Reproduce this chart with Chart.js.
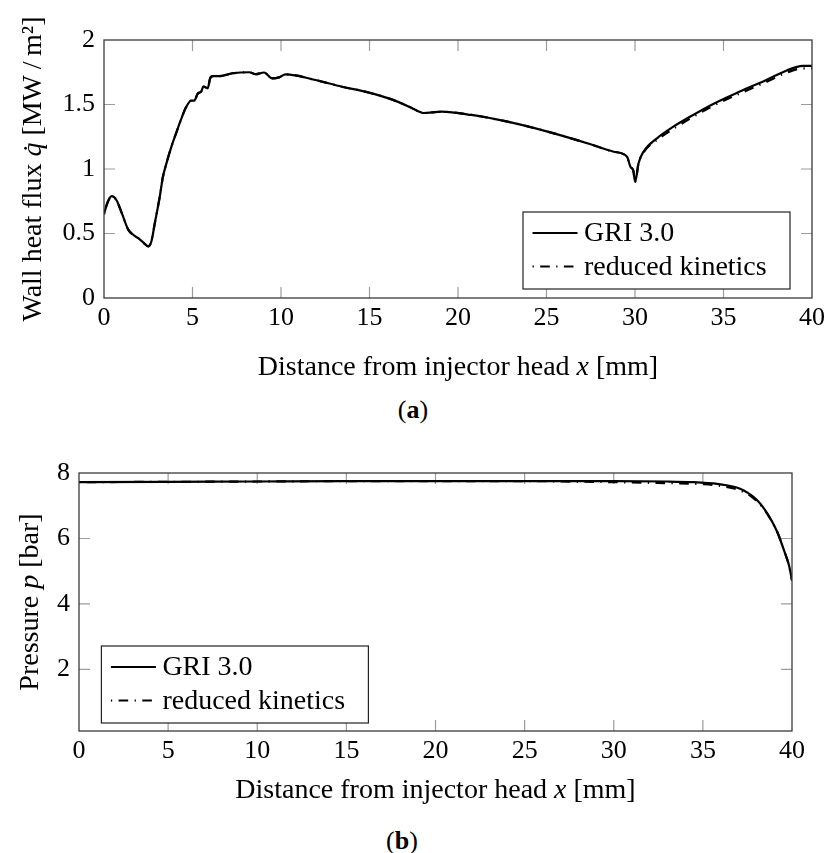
<!DOCTYPE html>
<html>
<head>
<meta charset="utf-8">
<script src="https://cdn.jsdelivr.net/npm/chart.js@4.4.0/dist/chart.umd.min.js"></script>
<style>
  body { margin: 0; width: 830px; height: 853px; position: relative; overflow: hidden; background: #fff;
         font-family: "Liberation Serif", serif; }
  canvas { position: absolute; left: 0; }
  #heatChart { top: 0; }
  #pressChart { top: 440px; }
  .caption { position: absolute; font-size: 26px; line-height: 1; transform: translate(-50%, -50%); color: #000; }
</style>
</head>
<body>
<canvas id="heatChart" width="830" height="390"></canvas>
<div class="caption" style="left:413px; top:410px">(<b>a</b>)</div>
<canvas id="pressChart" width="830" height="380"></canvas>
<div class="caption" style="left:402px; top:841px">(<b>b</b>)</div>

<script>
// wall heat flux along the chamber [mm] -> [MW/m2]
const heatX = [0, 0.2, 0.43, 0.7, 1.0, 1.37, 1.65, 2.02, 2.3, 2.5, 2.68, 2.87, 3.15, 3.33, 3.52, 3.8,
  4.08, 4.37, 4.64, 4.93, 5.1, 5.3, 5.49, 5.62, 5.86, 5.99, 6.14, 6.52, 7.26, 8.2, 8.58, 9.04, 9.51,
  9.89, 10.26, 11.94, 13.44, 14.75, 16.25, 17.2, 17.75, 18.03, 19.06, 20.75, 22.8, 25.06, 27.3, 28.8,
  29.55, 29.74, 29.9, 30.01, 30.2, 30.48, 31.24, 32.17, 33.11, 34.42, 35.92, 37.42, 38.54, 39.47, 40];
const heatGri = [0.65, 0.74, 0.79, 0.76, 0.66, 0.53, 0.49, 0.455, 0.42, 0.40, 0.44, 0.58, 0.785, 0.94,
  1.04, 1.17, 1.28, 1.39, 1.48, 1.53, 1.53, 1.585, 1.60, 1.64, 1.625, 1.70, 1.72, 1.72, 1.742, 1.75,
  1.735, 1.748, 1.703, 1.71, 1.734, 1.69, 1.638, 1.60, 1.54, 1.485, 1.448, 1.434, 1.444, 1.419, 1.367,
  1.29, 1.20, 1.134, 1.095, 1.018, 0.99, 0.90, 1.044, 1.134, 1.238, 1.328, 1.405, 1.504, 1.60, 1.69,
  1.762, 1.80, 1.80];
const heatReduced = [0.65, 0.74, 0.79, 0.76, 0.66, 0.53, 0.49, 0.455, 0.42, 0.40, 0.44, 0.58, 0.785, 0.94,
  1.04, 1.17, 1.28, 1.39, 1.48, 1.53, 1.53, 1.585, 1.60, 1.64, 1.625, 1.70, 1.72, 1.72, 1.742, 1.75,
  1.735, 1.748, 1.703, 1.71, 1.734, 1.69, 1.638, 1.60, 1.54, 1.485, 1.448, 1.434, 1.444, 1.419, 1.367,
  1.29, 1.20, 1.134, 1.095, 1.018, 0.99, 0.90, 1.044, 1.128, 1.225, 1.312, 1.39, 1.49, 1.585, 1.675,
  1.745, 1.78, 1.78];

// chamber pressure [mm] -> [bar]
const pressX = [0, 5, 10, 15, 20, 25, 30, 33, 34.5, 35.06, 35.8, 36.74, 37.12, 37.5, 37.8, 38.06, 38.34,
  38.62, 38.9, 39.18, 39.55, 39.83, 40];
const pressGri = [7.72, 7.73, 7.74, 7.75, 7.75, 7.75, 7.75, 7.74, 7.72, 7.70, 7.67, 7.58, 7.51, 7.40,
  7.29, 7.16, 6.98, 6.76, 6.50, 6.19, 5.64, 5.18, 4.72];
const pressReduced = [7.72, 7.73, 7.74, 7.75, 7.75, 7.75, 7.72, 7.69, 7.67, 7.66, 7.62, 7.53, 7.46, 7.36,
  7.25, 7.12, 6.96, 6.74, 6.49, 6.19, 5.64, 5.18, 4.72];

const seriesLabels = ['GRI 3.0', 'reduced kinetics'];
const distanceTicks = [0, 5, 10, 15, 20, 25, 30, 35, 40];
const heatTicks = [0, 0.5, 1, 1.5, 2];
const pressTicks = [2, 4, 6, 8];

const FONT = '"Liberation Serif", serif';
const TICK_LEN = 11;
const LEG_W = 267, LEG_H = 77;

function toPoints(xs, ys) {
  return xs.map((x, i) => ({ x: x, y: ys[i] }));
}

function drawRich(ctx, parts, cx, cy, size) {
  let total = 0;
  const widths = parts.map(p => {
    ctx.font = (p.italic ? 'italic ' : '') + size + 'px ' + FONT;
    const w = ctx.measureText(p.text).width;
    total += w;
    return w;
  });
  let x = cx - total / 2;
  ctx.textAlign = 'left';
  ctx.textBaseline = 'alphabetic';
  parts.forEach((p, i) => {
    ctx.font = (p.italic ? 'italic ' : '') + size + 'px ' + FONT;
    ctx.fillText(p.text, x, cy);
    x += widths[i];
  });
}

// pgfplots-like box: inward ticks, frame, legend and axis titles
const pgfAxes = {
  id: 'pgfAxes',
  beforeDatasetsDraw(chart) {
    const { ctx, chartArea: a, scales: { x, y } } = chart;
    ctx.save();
    ctx.strokeStyle = '#9c9c9c';
    ctx.lineWidth = 1.2;
    ctx.beginPath();
    x.ticks.forEach(t => {
      const px = x.getPixelForValue(t.value);
      if (px <= a.left + 1 || px >= a.right - 1) return;
      ctx.moveTo(px, a.bottom); ctx.lineTo(px, a.bottom - TICK_LEN);
      ctx.moveTo(px, a.top); ctx.lineTo(px, a.top + TICK_LEN);
    });
    y.ticks.forEach(t => {
      const py = y.getPixelForValue(t.value);
      if (py <= a.top + 1 || py >= a.bottom - 1) return;
      ctx.moveTo(a.left, py); ctx.lineTo(a.left + TICK_LEN, py);
      ctx.moveTo(a.right, py); ctx.lineTo(a.right - TICK_LEN, py);
    });
    ctx.stroke();
    ctx.restore();
  },
  afterDatasetsDraw(chart, args, opts) {
    const { ctx, chartArea: a } = chart;
    ctx.save();
    ctx.strokeStyle = '#3a3a3a';
    ctx.lineWidth = 1.3;
    ctx.strokeRect(a.left, a.top, a.right - a.left, a.bottom - a.top);

    // legend box
    const lg = opts.legend;
    const bx = lg.corner === 'se' ? a.right - lg.dx - LEG_W : a.left + lg.dx;
    const by = a.bottom - lg.dy - LEG_H;
    ctx.fillStyle = '#fff';
    ctx.fillRect(bx, by, LEG_W, LEG_H);
    ctx.strokeStyle = '#222';
    ctx.lineWidth = 1.2;
    ctx.strokeRect(bx, by, LEG_W, LEG_H);
    chart.data.datasets.forEach((ds, i) => {
      const ry = by + 21 + i * 33.5;
      ctx.setLineDash(ds.borderDash || []);
      ctx.strokeStyle = ds.borderColor;
      ctx.lineWidth = ds.borderWidth;
      ctx.beginPath();
      ctx.moveTo(bx + 9.5, ry);
      ctx.lineTo(bx + 54.5, ry);
      ctx.stroke();
      ctx.setLineDash([]);
      ctx.fillStyle = '#000';
      ctx.font = '28px ' + FONT;
      ctx.textAlign = 'left';
      ctx.textBaseline = 'middle';
      ctx.fillText(ds.label, bx + 61, ry + 1);
    });

    // axis titles
    ctx.fillStyle = '#000';
    drawRich(ctx, opts.xTitle, (a.left + a.right) / 2, opts.xTitleBase, 28);
    ctx.save();
    ctx.translate(opts.yTitleBase, (a.top + a.bottom) / 2);
    ctx.rotate(-Math.PI / 2);
    drawRich(ctx, opts.yTitle, 0, 0, 28);
    ctx.restore();
    ctx.restore();
  }
};

function lineDataset(label, points, dash) {
  return {
    label: label,
    data: points,
    borderColor: '#000',
    borderWidth: 2.2,
    borderDash: dash,
    pointRadius: 0,
    fill: false,
    cubicInterpolationMode: 'monotone'
  };
}

function buildChart(id, cfg) {
  return new Chart(document.getElementById(id), {
    type: 'line',
    data: {
      datasets: [
        lineDataset(seriesLabels[0], cfg.gri, []),
        lineDataset(seriesLabels[1], cfg.reduced, [1.3, 6.4, 9.6, 6.4])
      ]
    },
    options: {
      responsive: false,
      animation: false,
      layout: { padding: cfg.padding },
      plugins: {
        legend: { display: false },
        tooltip: { enabled: false },
        pgfAxes: cfg.axes
      },
      scales: {
        x: {
          type: 'linear',
          min: 0,
          max: 40,
          afterBuildTicks: s => { s.ticks = distanceTicks.map(v => ({ value: v })); },
          afterFit: s => { s.height = cfg.xHeight; },
          grid: { display: false, drawTicks: false },
          border: { display: false },
          ticks: { color: '#000', font: { family: FONT, size: 26 }, padding: 5, maxRotation: 0, autoSkip: false,
                   callback: v => String(v) }
        },
        y: {
          type: 'linear',
          min: cfg.yMin,
          max: cfg.yMax,
          afterBuildTicks: s => { s.ticks = cfg.yTicks.map(v => ({ value: v })); },
          afterFit: s => { s.width = cfg.yWidth; },
          grid: { display: false, drawTicks: false },
          border: { display: false },
          ticks: { color: '#000', font: { family: FONT, size: 26 }, padding: 9, autoSkip: false,
                   callback: v => String(v) }
        }
      }
    },
    plugins: [pgfAxes]
  });
}

buildChart('heatChart', {
  gri: toPoints(heatX, heatGri),
  reduced: toPoints(heatX, heatReduced),
  padding: { top: 40, right: 14, left: 0, bottom: 0 },
  xHeight: 92,
  yWidth: 104,
  yMin: 0,
  yMax: 2,
  yTicks: heatTicks,
  axes: {
    legend: { corner: 'se', dx: 22, dy: 9 },
    xTitle: [{ text: 'Distance from injector head ' }, { text: 'x', italic: true }, { text: ' [mm]' }],
    xTitleBase: 375,
    yTitle: [{ text: 'Wall heat flux ' }, { text: 'q\u0307', italic: true }, { text: ' [MW\u2009/\u2009m\u00b2]' }],
    yTitleBase: 41
  }
});

buildChart('pressChart', {
  gri: toPoints(pressX, pressGri),
  reduced: toPoints(pressX, pressReduced),
  padding: { top: 33, right: 38, left: 0, bottom: 0 },
  xHeight: 89,
  yWidth: 79,
  yMin: 0.12,
  yMax: 8,
  yTicks: pressTicks,
  axes: {
    legend: { corner: 'sw', dx: 22.4, dy: 8 },
    xTitle: [{ text: 'Distance from injector head ' }, { text: 'x', italic: true }, { text: ' [mm]' }],
    xTitleBase: 358,
    yTitle: [{ text: 'Pressure ' }, { text: 'p', italic: true }, { text: ' [bar]' }],
    yTitleBase: 38
  }
});
</script>
</body>
</html>
